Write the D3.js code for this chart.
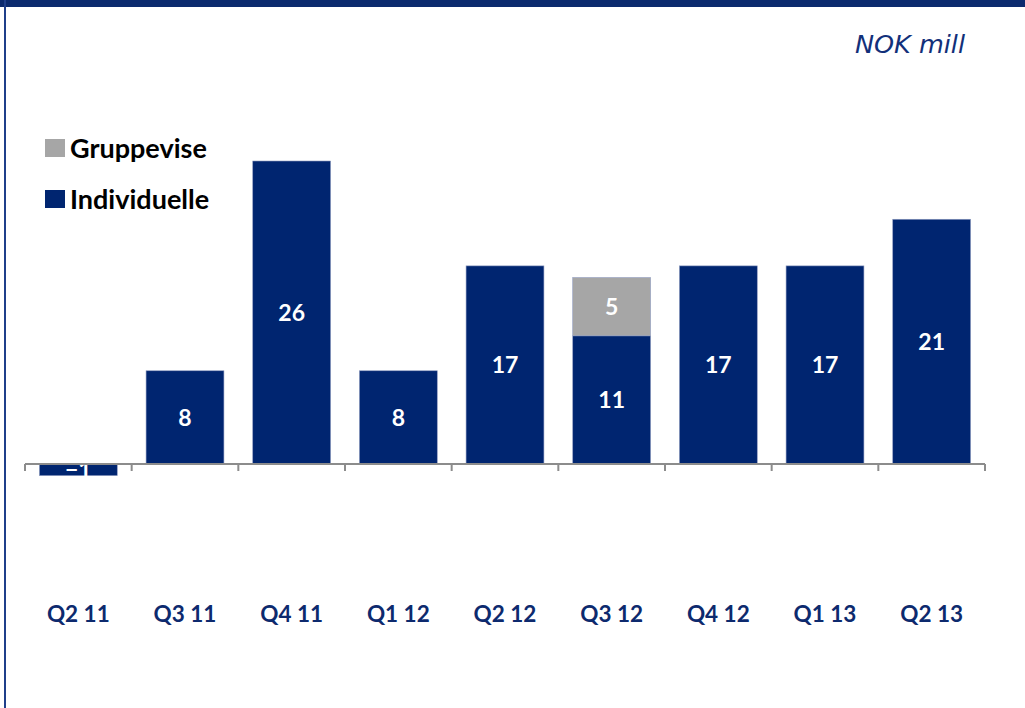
<!DOCTYPE html>
<html>
<head>
<meta charset="utf-8">
<script src="https://cdn.jsdelivr.net/npm/d3@7"></script>
<style>
  html, body { margin: 0; padding: 0; background: #fff; }
  svg { display: block; }
</style>
</head>
<body>
<svg id="chart" width="1025" height="708"></svg>
<script>
// Quarterly write-downs, NOK mill
const quarters = ["Q2 11", "Q3 11", "Q4 11", "Q1 12", "Q2 12", "Q3 12", "Q4 12", "Q1 13", "Q2 13"];
const individuelle = [-1, 8, 26, 8, 17, 11, 17, 17, 21];
const gruppevise   = [0, 0, 0, 0, 0, 5, 0, 0, 0];
const seriesNames = ["Individuelle", "Gruppevise"];
const legendOrder = ["Gruppevise", "Individuelle"];

const NAVY = "#002570";
const GREY = "#a6a6a6";
const AXIS = "#8c8c8c";
const FONT = "Lato, 'Open Sans', sans-serif";

const svg = d3.select("#chart");
const W = 1025, H = 708;

// Frame: navy band on top, thin rule on the left
svg.append("rect").attr("x", 0).attr("y", 0).attr("width", W).attr("height", 7).attr("fill", "#0b2a6e");
svg.append("rect").attr("x", 4).attr("y", 0).attr("width", 2).attr("height", H).attr("fill", "#1f3f8a");

// Unit note
svg.append("text")
  .attr("x", 965).attr("y", 53)
  .attr("text-anchor", "end")
  .attr("font-family", "'DejaVu Sans', Verdana, sans-serif")
  .attr("font-style", "italic")
  .attr("font-size", 25.5)
  .attr("fill", "#12307a")
  .text("NOK mill");

// Scales
const x = d3.scaleBand()
  .domain(quarters)
  .range([25, 985])
  .paddingInner(0.27)
  .paddingOuter(0.135);
const step = x.step();

const y = d3.scaleLinear()
  .domain([0, 26])
  .range([464, 161]);

// Stack the two series
const rows = quarters.map((q, i) => ({ q, Individuelle: individuelle[i], Gruppevise: gruppevise[i] }));
const stacked = d3.stack().keys(seriesNames).offset(d3.stackOffsetDiverging)(rows);
const colour = d3.scaleOrdinal().domain(seriesNames).range([NAVY, GREY]);

const layers = svg.append("g").selectAll("g")
  .data(stacked)
  .join("g")
  .attr("fill", d => colour(d.key));

layers.selectAll("rect")
  .data(d => d.filter(s => s[1] - s[0] !== 0))
  .join("rect")
  .attr("x", d => x(d.data.q))
  .attr("width", x.bandwidth())
  .attr("y", d => y(Math.max(d[0], d[1])))
  .attr("height", d => Math.abs(y(d[0]) - y(d[1])))
  .attr("stroke", "#8f9cc0")
  .attr("stroke-width", 0.6);

// Value labels, centred in each segment
const labelLayer = svg.append("g");
stacked.forEach(layer => {
  layer.forEach(s => {
    const v = s.data[layer.key];
    if (v === 0) return;
    labelLayer.append("text")
      .attr("x", x(s.data.q) + x.bandwidth() / 2)
      .attr("y", (y(s[0]) + y(s[1])) / 2)
      .attr("dy", "0.36em")
      .attr("text-anchor", "middle")
      .attr("font-family", FONT)
      .attr("font-weight", "bold")
      .attr("font-size", 23)
      .attr("fill", "#fff")
      .text(d3.format("d")(v));
  });
});

// Category axis: gray line with ticks at band boundaries
const axisG = svg.append("g");
axisG.append("line")
  .attr("x1", 25).attr("x2", 985)
  .attr("y1", y(0)).attr("y2", y(0))
  .attr("stroke", AXIS).attr("stroke-width", 2);
const boundaries = quarters.map(q => x(q) - step * x.paddingInner() / 2).concat([985]);
axisG.selectAll("line.tick")
  .data(boundaries)
  .join("line")
  .attr("class", "tick")
  .attr("x1", d => d).attr("x2", d => d)
  .attr("y1", y(0)).attr("y2", y(0) + 7)
  .attr("stroke", AXIS).attr("stroke-width", 2);

// Category labels
svg.append("g").selectAll("text")
  .data(quarters)
  .join("text")
  .attr("x", d => x(d) + x.bandwidth() / 2)
  .attr("y", 614)
  .attr("dy", "0.36em")
  .attr("text-anchor", "middle")
  .attr("font-family", FONT)
  .attr("font-weight", "bold")
  .attr("font-size", 22.5)
  .attr("fill", "#0d2a6e")
  .text(d => d);

// Legend
const legend = svg.append("g").attr("transform", "translate(45,139)");
const li = legend.selectAll("g")
  .data(legendOrder)
  .join("g")
  .attr("transform", (d, i) => `translate(0,${i * 51})`);
li.append("rect")
  .attr("width", 20).attr("height", 18)
  .attr("fill", d => colour(d));
li.append("text")
  .attr("x", 25).attr("y", 9)
  .attr("dy", "0.36em")
  .attr("font-family", FONT)
  .attr("font-weight", "bold")
  .attr("font-size", 27)
  .attr("fill", "#000")
  .text(d => d);
</script>
</body>
</html>
